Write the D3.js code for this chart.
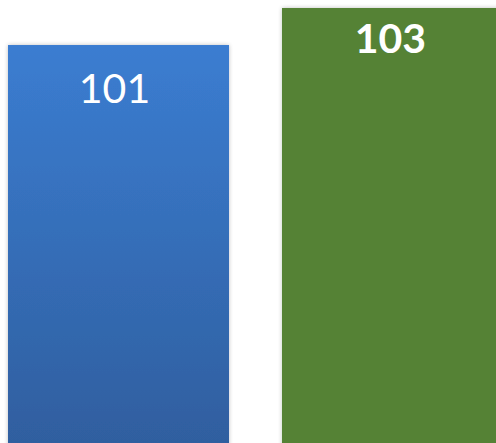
<!DOCTYPE html>
<html lang="en">
    <head>
        <meta charset="utf-8">
        <title>Two bars</title>
        <script type="text/javascript" src="https://d3js.org/d3.v7.min.js"></script>
        <style>
            body { margin: 0; background: #fff; }
            svg { display: block; }
        </style>
    </head>
    <body>
        <div id="chart"></div>
        <script type="text/javascript">

            var categories = ["A", "B"];
            var values = [101, 103];
            var labels = ["101", "103"];

            var w = 496;
            var h = 443;

            var svg = d3.select("#chart")
                        .append("svg")
                        .attr("width", w)
                        .attr("height", h);

            var defs = svg.append("defs");

            var grad = defs.append("linearGradient")
                .attr("id", "blueGrad")
                .attr("x1", 0).attr("y1", 0)
                .attr("x2", 0).attr("y2", 1);
            grad.append("stop").attr("offset", "0%").attr("stop-color", "#3b7dd1");
            grad.append("stop").attr("offset", "100%").attr("stop-color", "#2f5e9e");

            var shadow = defs.append("filter")
                .attr("id", "shadow")
                .attr("x", "-10%").attr("y", "-10%")
                .attr("width", "120%").attr("height", "120%");
            shadow.append("feGaussianBlur")
                .attr("in", "SourceAlpha")
                .attr("stdDeviation", 2);
            shadow.append("feOffset").attr("dx", 0).attr("dy", 0).attr("result", "blur");
            shadow.append("feComponentTransfer")
                .append("feFuncA").attr("type", "linear").attr("slope", 0.25);
            var merge = shadow.append("feMerge");
            merge.append("feMergeNode");
            merge.append("feMergeNode").attr("in", "SourceGraphic");

            var xScale = d3.scaleBand()
                .domain(categories)
                .range([8, 503])
                .paddingInner(0.1934)
                .paddingOuter(0);

            var yScale = d3.scaleLinear()
                .domain([79.5, 103])
                .range([h, 8]);

            var fills = ["url(#blueGrad)", "#548235"];

            // bars
            svg.selectAll("rect.bar")
                .data(values)
                .enter()
                .append("rect")
                .attr("class", "bar")
                .attr("x", function(d, i) { return xScale(categories[i]); })
                .attr("y", function(d) { return yScale(d); })
                .attr("width", xScale.bandwidth())
                .attr("height", function(d) { return h - yScale(d) + 10; })
                .attr("fill", function(d, i) { return fills[i]; })
                .attr("filter", "url(#shadow)");

            // value labels
            svg.selectAll("text.val")
                .data(values)
                .enter()
                .append("text")
                .attr("class", "val")
                .attr("x", function(d, i) { return xScale(categories[i]) + xScale.bandwidth() / 2 - (i == 0 ? 4 : 2); })
                .attr("y", function(d, i) { return yScale(d) + (i == 0 ? 58 : 45); })
                .attr("text-anchor", "middle")
                .attr("fill", "#ffffff")
                .style("font-family", "Lato, 'Open Sans', sans-serif")
                .style("font-size", "41px")
                .style("font-weight", function(d, i) { return i == 0 ? "normal" : "bold"; })
                .text(function(d, i) { return labels[i]; });

        </script>
    </body>
</html>
